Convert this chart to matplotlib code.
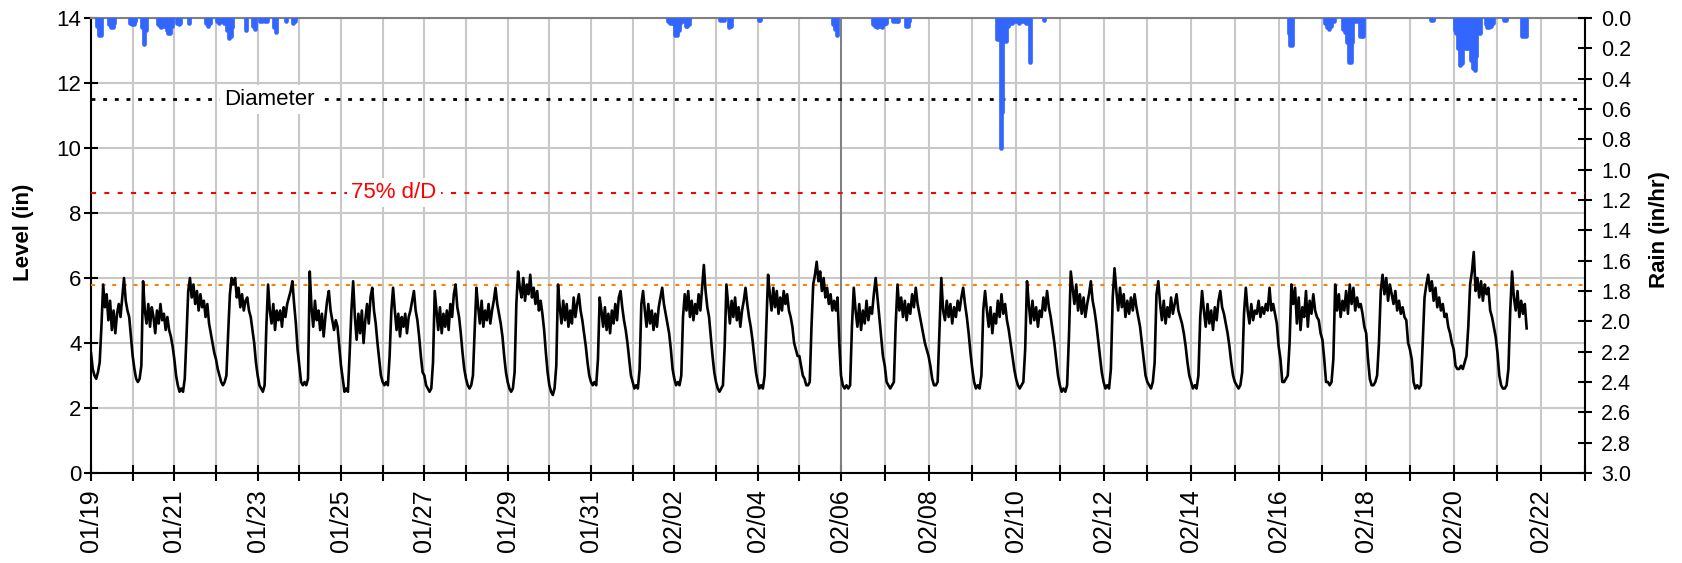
import matplotlib
matplotlib.use("Agg")
import matplotlib.pyplot as plt
import matplotlib.dates as mdates
import numpy as np
import pandas as pd

plt.rcParams['font.family'] = ['Liberation Sans', 'DejaVu Sans']

# hourly flow level (in), starting 01/19 00:00, one day per row
level_start = '2021-01-19 00:00'
level_in = [
    3.7, 3.2, 3.0, 2.9, 3.1, 3.4, 4.5, 5.8, 5.1, 5.5, 4.7, 5.3, 4.4, 5.0, 4.3, 4.9, 5.2, 4.8, 5.4, 6.0, 5.3, 5.0, 4.8, 4.2,
    3.6, 3.2, 2.9, 2.8, 2.9, 3.3, 5.9, 5.0, 4.6, 5.2, 4.5, 5.1, 4.8, 4.3, 5.0, 4.6, 5.2, 4.7, 4.9, 4.4, 4.8, 4.4, 4.2, 3.9,
    3.5, 3.0, 2.7, 2.5, 2.6, 2.5, 2.9, 4.2, 5.6, 6.0, 5.4, 5.8, 5.2, 5.6, 5.0, 5.5, 5.1, 5.3, 4.8, 5.2, 4.6, 4.3, 4.0, 3.7,
    3.5, 3.2, 3.0, 2.8, 2.7, 2.8, 3.0, 4.3, 5.5, 6.0, 5.8, 6.0, 5.4, 5.7, 5.1, 5.5, 5.0, 5.3, 5.4, 5.0, 4.8, 4.4, 4.0, 3.4,
    3.0, 2.7, 2.6, 2.5, 2.7, 4.5, 5.8, 5.0, 4.6, 5.2, 4.4, 5.0, 4.7, 5.0, 4.5, 5.1, 4.8, 5.2, 5.4, 5.6, 5.9, 5.2, 4.6, 3.8,
    3.3, 2.8, 2.7, 2.8, 2.7, 2.9, 6.2, 5.1, 4.5, 5.3, 4.7, 5.0, 4.4, 4.9, 4.2, 4.8, 5.3, 5.6, 5.0, 4.7, 4.4, 4.7, 4.5, 3.9,
    3.3, 2.9, 2.5, 2.6, 2.5, 3.7, 5.0, 5.9, 4.8, 4.1, 4.9, 4.3, 5.0, 4.0, 4.7, 5.2, 4.6, 5.4, 5.7, 5.0, 4.6, 4.0, 3.5, 3.0,
    2.8, 2.7, 2.8, 2.7, 3.6, 5.0, 5.7, 5.0, 4.4, 4.9, 4.2, 4.8, 4.5, 4.9, 4.3, 4.8, 5.0, 5.3, 5.6, 5.0, 4.7, 4.2, 3.6, 3.1,
    3.0, 2.7, 2.6, 2.5, 2.6, 3.4, 5.6, 5.0, 4.4, 5.1, 4.3, 4.9, 4.5, 5.0, 4.4, 5.2, 4.8, 5.5, 5.8, 5.1, 4.8, 4.3, 3.7, 3.2,
    2.9, 2.7, 2.6, 2.7, 3.0, 4.4, 5.7, 5.1, 4.6, 5.3, 4.5, 5.0, 4.7, 5.2, 4.6, 5.0, 5.3, 5.7, 5.2, 4.9, 4.6, 4.2, 3.6, 3.1,
    2.8, 2.6, 2.5, 2.6, 3.1, 5.2, 6.2, 5.7, 5.4, 6.0, 5.3, 5.8, 5.5, 6.1, 5.4, 5.7, 5.2, 5.6, 5.0, 5.3, 4.9, 4.4, 3.7, 3.1,
    2.7, 2.5, 2.4, 2.6, 3.3, 5.8, 5.1, 4.6, 5.3, 4.7, 5.2, 4.5, 5.0, 4.6, 5.4, 4.8, 5.2, 5.5, 5.0, 4.7, 4.3, 3.9, 3.4, 3.0,
    2.8, 2.7, 2.8, 2.7, 3.5, 5.4, 5.0, 4.5, 5.1, 4.4, 4.9, 4.3, 5.0, 4.6, 5.2, 4.7, 5.4, 5.6, 5.1, 4.7, 4.4, 4.0, 3.5, 3.0,
    2.8, 2.6, 2.7, 2.6, 3.2, 5.2, 5.6, 5.0, 4.5, 5.2, 4.6, 5.0, 4.4, 4.9, 4.5, 5.1, 5.4, 5.7, 5.2, 4.9, 4.6, 4.3, 3.8, 3.2,
    2.9, 2.7, 2.8, 2.7, 3.0, 4.8, 5.5, 5.0, 5.6, 4.8, 5.3, 4.7, 5.2, 4.9, 5.5, 5.0, 5.7, 6.4, 5.6, 5.1, 4.8, 4.2, 3.6, 3.1,
    2.8, 2.6, 2.5, 2.6, 2.7, 3.9, 5.8, 5.2, 4.6, 5.3, 4.8, 5.4, 4.7, 5.1, 4.5, 5.0, 5.3, 5.7, 5.2, 4.8, 4.5, 4.1, 3.6, 3.1,
    2.8, 2.6, 2.7, 2.6, 3.0, 4.6, 6.1, 5.5, 5.0, 5.7, 5.1, 5.6, 4.9, 5.4, 5.0, 5.6, 5.2, 5.5, 5.0, 4.8, 4.5, 4.0, 3.8, 3.6,
    3.6, 3.3, 3.0, 2.9, 2.7, 2.7, 2.8, 4.5, 5.8, 6.1, 6.5, 5.9, 6.2, 5.6, 6.0, 5.4, 5.7, 5.2, 5.5, 5.0, 5.3, 5.0, 5.4, 4.0,
    3.0, 2.7, 2.6, 2.7, 2.6, 2.7, 4.5, 5.7, 5.0, 4.5, 5.2, 4.4, 5.0, 4.6, 5.3, 4.7, 5.1, 4.9, 5.5, 6.0, 5.4, 4.8, 4.2, 3.6,
    3.3, 2.8, 2.7, 2.6, 2.7, 2.8, 4.6, 5.8, 5.0, 5.4, 4.8, 5.3, 4.7, 5.2, 4.9, 5.5, 5.1, 5.7, 5.2, 4.9, 4.6, 4.3, 4.0, 3.8,
    3.6, 3.3, 2.9, 2.7, 2.7, 2.8, 4.4, 6.0, 5.0, 4.7, 5.3, 4.8, 5.2, 4.6, 5.1, 4.8, 5.3, 5.0, 5.4, 5.7, 5.2, 4.8, 4.3, 3.7,
    3.2, 2.8, 2.6, 2.7, 2.6, 3.0, 5.0, 5.6, 5.0, 4.5, 5.1, 4.3, 4.9, 4.6, 5.3, 4.8, 5.5, 4.9, 5.2, 4.7, 4.4, 4.0, 3.6, 3.2,
    2.9, 2.7, 2.6, 2.7, 2.8, 3.8, 5.9, 5.2, 4.6, 5.3, 4.7, 5.1, 4.5, 5.0, 4.8, 5.4, 5.0, 5.6, 5.1, 4.8, 4.4, 4.0, 3.5, 3.0,
    2.7, 2.5, 2.6, 2.5, 2.7, 4.2, 6.2, 5.7, 5.2, 5.8, 5.0, 5.5, 4.9, 5.4, 4.8, 5.2, 5.5, 5.9, 5.3, 5.0, 4.6, 4.1, 3.6, 3.1,
    2.8, 2.6, 2.7, 2.6, 3.2, 5.4, 6.3, 5.6, 5.0, 5.7, 5.1, 5.5, 4.8, 5.3, 4.9, 5.4, 5.0, 5.5, 5.1, 4.8, 4.5, 4.0, 3.5, 3.0,
    2.8, 2.7, 2.6, 2.8, 3.4, 5.5, 5.9, 5.2, 4.7, 5.3, 4.6, 5.1, 4.8, 5.4, 4.9, 5.2, 5.5, 5.0, 4.8, 4.6, 4.3, 3.9, 3.4, 3.0,
    2.8, 2.6, 2.7, 2.6, 3.0, 4.8, 5.6, 5.0, 4.5, 5.2, 4.6, 5.0, 4.4, 5.1, 4.7, 5.3, 5.6, 5.1, 4.9, 4.6, 4.3, 3.9, 3.4, 3.0,
    2.8, 2.7, 2.6, 2.7, 3.1, 4.9, 5.7, 5.0, 4.6, 5.2, 4.7, 5.0, 4.9, 5.3, 4.8, 5.1, 4.9, 5.2, 5.0, 5.7, 5.0, 5.2, 4.9, 4.6,
    3.9, 3.5, 2.8, 2.8, 2.9, 3.0, 4.0, 5.8, 5.2, 5.7, 4.6, 5.4, 4.4, 5.1, 4.8, 5.6, 4.5, 5.3, 4.9, 5.5, 5.0, 4.8, 4.7, 4.3,
    4.1, 3.5, 2.8, 2.8, 2.7, 2.8, 3.5, 5.8, 5.0, 5.5, 4.8, 5.3, 5.0, 5.6, 4.9, 5.8, 5.2, 5.7, 5.0, 5.4, 5.1, 5.2, 4.9, 4.5,
    4.3, 3.5, 2.9, 2.7, 2.7, 2.8, 3.0, 4.0, 5.6, 6.1, 5.5, 6.0, 5.3, 5.8, 5.5, 5.2, 5.6, 5.0, 5.3, 4.9, 5.1, 4.8, 4.7, 4.0,
    3.8, 3.5, 2.8, 2.6, 2.7, 2.6, 2.7, 4.0, 5.4, 5.8, 6.1, 5.6, 5.9, 5.3, 5.7, 5.1, 5.4, 5.0, 5.2, 4.8, 4.9, 4.5, 4.3, 4.0,
    3.8, 3.3, 3.2, 3.2, 3.3, 3.2, 3.4, 3.6, 4.5, 5.8, 6.2, 6.8, 5.6, 6.0, 5.4, 5.9, 5.3, 5.8, 5.5, 5.7, 5.0, 4.8, 4.5, 4.2,
    3.7, 3.0, 2.7, 2.6, 2.6, 2.7, 3.2, 5.0, 6.2, 5.4, 5.0, 5.6, 4.8, 5.3, 4.9, 5.2, 4.45,
]

# rain events: start hour and hourly intensity (in/hr)
rain_start = [
    '2021-01-19 03:00', '2021-01-19 10:00', '2021-01-19 22:00', '2021-01-20 05:00',
    '2021-01-20 14:00', '2021-01-21 01:00', '2021-01-21 08:00', '2021-01-21 18:00',
    '2021-01-22 00:00', '2021-01-22 17:00', '2021-01-22 21:00', '2021-01-23 01:00',
    '2021-01-23 09:00', '2021-01-23 16:00', '2021-01-23 20:00', '2021-02-01 20:00',
    '2021-02-03 02:00', '2021-02-03 07:00', '2021-02-04 00:00', '2021-02-05 19:00',
    '2021-02-06 17:00', '2021-02-07 04:00', '2021-02-07 11:00', '2021-02-09 13:00',
    '2021-02-10 15:00', '2021-02-16 05:00', '2021-02-17 01:00', '2021-02-17 11:00',
    '2021-02-19 11:00', '2021-02-20 00:00', '2021-02-20 17:00', '2021-02-21 03:00',
    '2021-02-21 13:00',
]
rain_hourly = [
    [0.05, 0.11, 0.11], [0.04, 0.06, 0.06, 0.03], [0.03, 0.04, 0.04, 0.02], [0.06, 0.17, 0.08],
    [0.04, 0.05, 0.06, 0.05, 0.05, 0.08, 0.10, 0.10, 0.05], [0.03, 0.04, 0.03], [0.03], [0.03, 0.05, 0.03],
    [0.02, 0.03, 0.02, 0.02, 0.03, 0.03, 0.08, 0.13, 0.12, 0.06], [0.08], [0.05, 0.07], [0.02, 0.02, 0.01, 0.02, 0.02],
    [0.06, 0.09], [0.02], [0.03, 0.02], [0.02, 0.03, 0.03, 0.03, 0.11, 0.11, 0.08, 0.03, 0.02, 0.02, 0.05, 0.05, 0.04],
    [0.01, 0.01, 0.01], [0.06, 0.05], [0.01, 0.01], [0.04, 0.07, 0.11],
    [0.04, 0.05, 0.06, 0.05, 0.05, 0.06, 0.04, 0.03], [0.02, 0.02, 0.02, 0.02], [0.05, 0.05, 0.02],
    [0.14, 0.14, 0.86, 0.62, 0.15, 0.15, 0.05, 0.03, 0.03, 0.02, 0.02, 0.02, 0.03, 0.02, 0.02, 0.02, 0.03, 0.03, 0.29],
    [0.01], [0.10, 0.18, 0.18], [0.03, 0.06, 0.07, 0.05, 0.02, 0.02],
    [0.07, 0.09, 0.16, 0.29, 0.29, 0.16, 0.02, 0.02, 0.02, 0.12, 0.12, 0.12],
    [0.01, 0.01], [0.08, 0.10, 0.20, 0.31, 0.30, 0.20, 0.20, 0.20, 0.20, 0.28, 0.33, 0.34, 0.25, 0.10, 0.10],
    [0.04, 0.06, 0.06, 0.05, 0.03], [0.01, 0.01], [0.12, 0.12, 0.12],
]

diameter = 11.5
d75 = 8.625
d50 = 5.8

tick_days = pd.date_range('2021-01-19', '2021-02-23', freq='D')
tick_labels = [d.strftime('%m/%d') if i % 2 == 0 else '' for i, d in enumerate(tick_days)]


def main():
    W, H = 1682, 563
    fig = plt.figure(figsize=(W / 100, H / 100), dpi=100)
    ax = fig.add_axes([91 / W, 1 - 473 / H, 1494 / W, 455 / H])

    # date axis: the reference runs 01/19-02/06 slightly tighter than 02/06-02/23
    x0 = mdates.date2num(pd.Timestamp('2021-01-19'))
    xm = x0 + 18
    k1, k2 = 750 / 18, 744 / 17
    ym = (xm - x0) * k1

    def fwd(x):
        x = np.asarray(x, float)
        return np.where(x < xm, (x - x0) * k1, ym + (x - xm) * k2)

    def inv(y):
        y = np.asarray(y, float)
        return np.where(y < ym, x0 + y / k1, xm + (y - ym) / k2)

    ax.set_xscale('function', functions=(fwd, inv))

    t_level = mdates.date2num(pd.Timestamp(level_start)) + np.arange(len(level_in)) / 24
    ax.plot(t_level, level_in, color='black', lw=1.9, zorder=4)

    ax.axhline(diameter, color='black', lw=2.0, ls=(0, (1.4, 2.8)), zorder=3)
    ax.axhline(d75, color='#FF0000', lw=1.5, ls=(0, (2.4, 4.0)), zorder=3)
    ax.axhline(d50, color='#FF8000', lw=1.5, ls=(0, (1.9, 3.2)), zorder=3)
    ax.axvline(mdates.date2num(pd.Timestamp('2021-02-06')), color='#808080', lw=1.4, zorder=2)

    ax.text(mdates.date2num(pd.Timestamp('2021-01-23 07:00')), diameter, 'Diameter',
            fontsize=16, ha='center', va='center', color='black', zorder=5,
            bbox=dict(facecolor='white', edgecolor='none', pad=3))
    ax.text(mdates.date2num(pd.Timestamp('2021-01-26 06:30')), d75, '75% d/D',
            fontsize=16, ha='center', va='center', color='#FF0000', zorder=5,
            bbox=dict(facecolor='white', edgecolor='none', pad=3))

    ax.set_xlim(x0, x0 + 35)
    ax.set_ylim(0, 14)
    ax.set_yticks(np.arange(0, 15, 2))
    ax.set_xticks(mdates.date2num(tick_days))
    ax.set_xticklabels(tick_labels, rotation=90, fontsize=18)
    ax.tick_params(axis='y', labelsize=16, direction='inout', length=9.5, width=1.5, pad=2)
    ax.tick_params(axis='x', direction='inout', length=11.5, width=1.5, pad=6)
    ax.grid(True, color='#C8C8C8', lw=1.5, zorder=0)
    ax.set_axisbelow(True)
    for side in ['left', 'bottom', 'right']:
        ax.spines[side].set_linewidth(1.5)
        ax.spines[side].set_color('black')
    ax.spines['top'].set_color('#808080')
    ax.spines['top'].set_linewidth(1.5)

    # rain on inverted secondary axis
    ax2 = ax.twinx()
    for start, vals in zip(rain_start, rain_hourly):
        t = mdates.date2num(pd.Timestamp(start)) + (np.arange(len(vals)) + 0.5) / 24
        ax2.vlines(t, 0, vals, colors='#3366FF', linewidth=3.4, capstyle='round')
    ax2.set_ylim(3.0, 0.0)
    ax2.set_yticks(np.arange(0, 3.01, 0.2))
    ax2.yaxis.set_major_formatter(plt.FormatStrFormatter('%.1f'))
    ax2.tick_params(axis='y', labelsize=15.5, direction='inout', length=9.5, width=1.5, pad=7)
    for side in ['left', 'bottom', 'right', 'top']:
        ax2.spines[side].set_visible(False)
    ax2.set_xlim(x0, x0 + 35)

    fig.text(23 / W, 1 - 232 / H, 'Level (in)', rotation=90, ha='center', va='center',
             fontsize=16, fontweight='bold')
    fig.text(1660 / W, 1 - 230 / H, 'Rain (in/hr)', rotation=90, ha='center', va='center',
             fontsize=16, fontweight='bold')

    fig.savefig('out.png', dpi=100)


if __name__ == "__main__":
    main()
